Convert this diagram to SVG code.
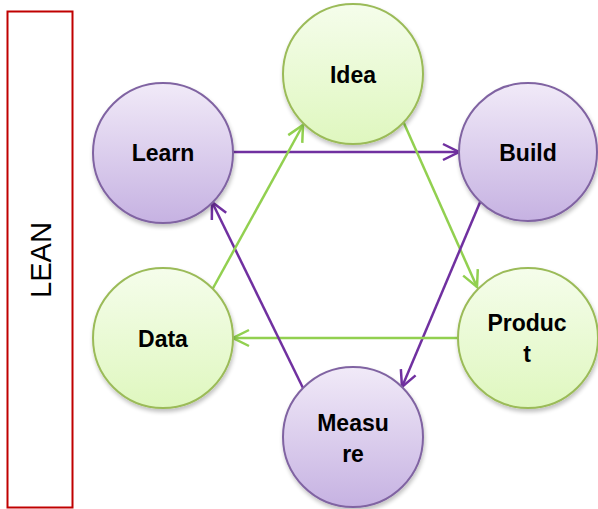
<svg xmlns="http://www.w3.org/2000/svg" width="598" height="509" viewBox="0 0 598 509">
<defs>
<linearGradient id="gG" x1="0" y1="0" x2="0" y2="1">
<stop offset="0" stop-color="#f5fdeb"/>
<stop offset="1" stop-color="#dff7bf"/>
</linearGradient>
<linearGradient id="gP" x1="0" y1="0" x2="0" y2="1">
<stop offset="0" stop-color="#f1eaf8"/>
<stop offset="1" stop-color="#c6b2e2"/>
</linearGradient>
<filter id="sh" x="-20%" y="-20%" width="150%" height="150%">
<feGaussianBlur in="SourceAlpha" stdDeviation="2"/>
<feOffset dx="1" dy="3" result="b"/>
<feComponentTransfer><feFuncA type="linear" slope="0.25"/></feComponentTransfer>
<feMerge><feMergeNode/><feMergeNode in="SourceGraphic"/></feMerge>
</filter>
<marker id="aP" viewBox="0 0 20 20" refX="18" refY="10" markerWidth="20" markerHeight="20" markerUnits="userSpaceOnUse" orient="auto">
<path d="M2,2 L18,10 L2,18" fill="none" stroke="#7030a0" stroke-width="2.5"/>
</marker>
<marker id="aG" viewBox="0 0 20 20" refX="18" refY="10" markerWidth="20" markerHeight="20" markerUnits="userSpaceOnUse" orient="auto">
<path d="M2,2 L18,10 L2,18" fill="none" stroke="#92d050" stroke-width="2.5"/>
</marker>
</defs>
<style>
.g{fill:url(#gG);stroke:#9bbb59;stroke-width:2}
.p{fill:url(#gP);stroke:#8064a2;stroke-width:2}
.t{font-family:"Liberation Sans",Arial,sans-serif;font-weight:bold;font-size:23px;fill:#000;text-anchor:middle}
.cp{stroke:#7030a0;stroke-width:2.5;fill:none;marker-end:url(#aP)}
.cg{stroke:#92d050;stroke-width:2.5;fill:none;marker-end:url(#aG)}
</style>
<g id="lean">
<rect x="7.5" y="11.5" width="65" height="496" fill="#fff" stroke="#c00000" stroke-width="2"/>
<text x="0" y="0" transform="translate(51,260) rotate(-90)" font-family="Liberation Sans,Arial,sans-serif" font-size="30" text-anchor="middle" textLength="76" lengthAdjust="spacingAndGlyphs">LEAN</text>
</g>
<g id="connectors">
<line class="cp" x1="233" y1="152" x2="459" y2="152"/>
<line class="cg" x1="403" y1="121" x2="477" y2="287"/>
<line class="cp" x1="481" y1="200" x2="402" y2="387"/>
<line class="cg" x1="458" y1="338" x2="233" y2="338"/>
<line class="cp" x1="303" y1="388" x2="212" y2="202"/>
<line class="cg" x1="212" y1="290" x2="303" y2="125"/>
</g>
<g id="idea"><circle class="g" cx="353" cy="74" r="70" filter="url(#sh)"/><text class="t" x="353" y="83">Idea</text></g>
<g id="learn"><circle class="p" cx="163" cy="153" r="70" filter="url(#sh)"/><text class="t" x="163" y="161">Learn</text></g>
<g id="build"><circle class="p" cx="528" cy="152" r="69" filter="url(#sh)"/><text class="t" x="528" y="161">Build</text></g>
<g id="product"><circle class="g" cx="528" cy="338" r="70" filter="url(#sh)"/><text class="t" x="527" y="331">Produc</text><text class="t" x="527" y="362">t</text></g>
<g id="measure"><circle class="p" cx="353" cy="437" r="70" filter="url(#sh)"/><text class="t" x="353" y="431">Measu</text><text class="t" x="353" y="462">re</text></g>
<g id="data"><circle class="g" cx="163" cy="338" r="70" filter="url(#sh)"/><text class="t" x="163" y="347">Data</text></g>
</svg>
